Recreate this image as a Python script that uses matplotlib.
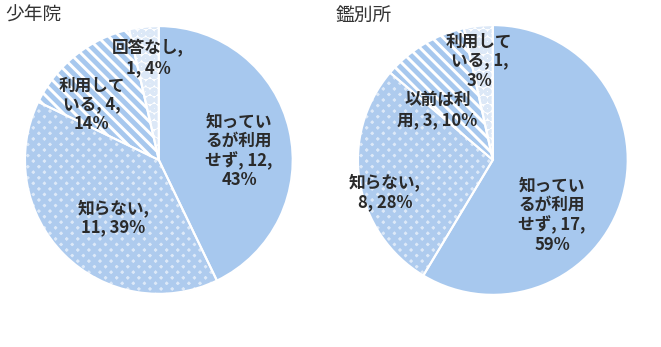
import matplotlib.pyplot as plt

plt.rcParams['font.family'] = ['Noto Sans CJK JP', 'DejaVu Sans']
plt.rcParams['hatch.linewidth'] = 3.5

# data
left_title = "少年院"
left_labels = ["知ってい\nるが利用\nせず, 12,\n43%", "知らない,\n11, 39%", "利用して\nいる, 4,\n14%", "回答なし,\n1, 4%"]
left_values = [12, 11, 4, 1]

right_title = "鑑別所"
right_labels = ["知ってい\nるが利用\nせず, 17,\n59%", "知らない,\n8, 28%", "以前は利\n用, 3, 10%", "利用して\nいる, 1,\n3%"]
right_values = [17, 8, 3, 1]

# label placement (fraction of radius from centre)
left_pos = [(0.60, 0.07), (-0.34, -0.43), (-0.50, 0.41), (-0.08, 0.76)]
right_pos = [(0.44, -0.41), (-0.80, -0.24), (-0.41, 0.37), (-0.10, 0.73)]

blue = '#A7C8EE'
styles = [
    dict(facecolor=blue, hatch=None, hc=blue),
    dict(facecolor='#DDE9F8', hatch='xxx', hc='#AECBEE'),
    dict(facecolor='white', hatch='\\\\\\', hc='#A7C8EE'),
    dict(facecolor='white', hatch='oo', hc='#DCE8F7'),
]

fig = plt.figure(figsize=(6.61, 3.47), dpi=100)


def draw(rect, values, labels, pos, title, tx):
    ax = fig.add_axes(rect)
    wedges, _ = ax.pie(values, startangle=90, counterclock=False,
                       wedgeprops=dict(linewidth=0))
    for w, st in zip(wedges, styles):
        w.set_facecolor(st['facecolor'])
        if st['hatch']:
            w.set_hatch(st['hatch'])
            w.set_edgecolor(st['hc'])
            w.set_linewidth(0)
    # white separators
    ax.pie(values, startangle=90, counterclock=False,
           wedgeprops=dict(fill=False, edgecolor='white', linewidth=1.5))
    for lab, (x, y) in zip(labels, pos):
        ax.text(x, y, lab, ha='center', va='center', fontsize=12,
                fontweight='bold', color='#2a2a2a', linespacing=1.1)
    ax.set_xlim(-1, 1)
    ax.set_ylim(-1, 1)
    ax.set_aspect('equal')
    ax.axis('off')
    fig.text(tx, 0.955, title, ha='left', va='center', fontsize=13.5, color='#333333')


draw([0.0378, 0.153, 0.405, 0.772], left_values, left_labels, left_pos, left_title, 0.008)
draw([0.5416, 0.150, 0.408, 0.778], right_values, right_labels, right_pos, right_title, 0.508)

plt.savefig('out.png', dpi=100)
